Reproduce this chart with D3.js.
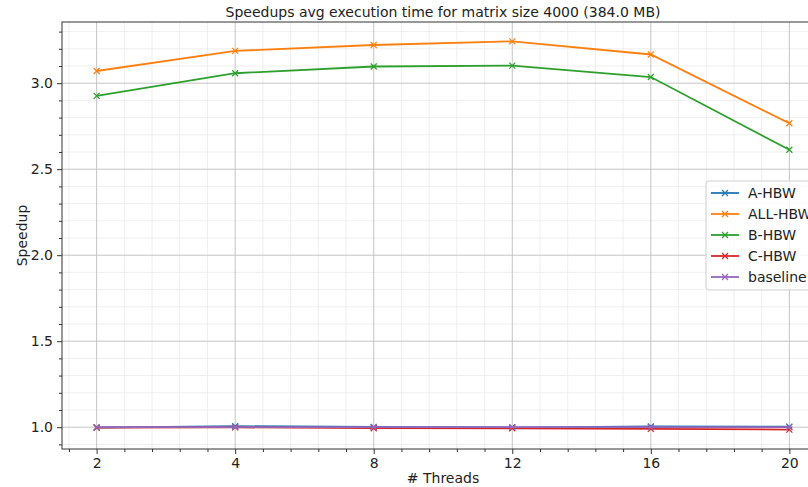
<!DOCTYPE html>
<html><head><meta charset="utf-8">
<script src="https://cdn.jsdelivr.net/npm/d3@7"></script>
<style>body{margin:0;background:#fff}svg{font-family:"DejaVu Sans",sans-serif}</style>
</head><body><svg id="c" width="808" height="487"></svg>
<script>
const threads = [2, 4, 8, 12, 16, 20];
const seriesNames = ["A-HBW", "ALL-HBW", "B-HBW", "C-HBW", "baseline"];
const aHBW = [0.997, 1.006, 1.001, 0.998, 1.004, 1.003];
const allHBW = [3.071, 3.188, 3.222, 3.243, 3.167, 2.767];
const bHBW = [2.926, 3.058, 3.097, 3.102, 3.036, 2.613];
const cHBW = [0.998, 0.999, 0.994, 0.993, 0.990, 0.986];
const baseline = [1.0, 1.0, 1.0, 1.0, 1.0, 1.0];
const yTicks = [1.0, 1.5, 2.0, 2.5, 3.0];
const colors = ["#1f77b4", "#ff7f0e", "#2ca02c", "#d62728", "#9467bd"];
const title = "Speedups avg execution time for matrix size 4000 (384.0 MB)";

const series = [aHBW, allHBW, bHBW, cHBW, baseline].map((v, i) => ({name: seriesNames[i], values: v, color: colors[i]}));

const svg = d3.select("#c");
const L = 62, R = 824, T = 22, B = 449;
const x = d3.scaleLinear().domain([-0.25, 5.25]).range([L, R]);
const allVals = series.flatMap(s => s.values);
const lo = d3.min(allVals), hi = d3.max(allVals), pad = (hi - lo) * 0.05;
const y = d3.scaleLinear().domain([lo - pad, hi + pad]).range([B, T]);

const g = svg.append("g");
const xMinor = d3.range(-0.2, 5.21, 0.2).filter(v => Math.abs(v - Math.round(v)) > 1e-6);
const yMinor = d3.range(0.9, 3.36, 0.1).filter(v => Math.abs(v * 2 - Math.round(v * 2)) > 1e-6);
g.selectAll(".xm").data(xMinor).join("line").attr("x1", d => x(d)).attr("x2", d => x(d)).attr("y1", T).attr("y2", B).attr("stroke", "#ebebeb").attr("stroke-width", 0.8);
g.selectAll(".ym").data(yMinor).join("line").attr("y1", d => y(d)).attr("y2", d => y(d)).attr("x1", L).attr("x2", R).attr("stroke", "#ebebeb").attr("stroke-width", 0.8);
g.selectAll(".xM").data(d3.range(6)).join("line").attr("x1", d => x(d)).attr("x2", d => x(d)).attr("y1", T).attr("y2", B).attr("stroke", "#c4c4c4").attr("stroke-width", 1);
g.selectAll(".yM").data(yTicks).join("line").attr("y1", d => y(d)).attr("y2", d => y(d)).attr("x1", L).attr("x2", R).attr("stroke", "#c4c4c4").attr("stroke-width", 1);

const xAxis = d3.axisBottom(x).tickValues(d3.range(6)).tickFormat(i => threads[i]).tickSize(5).tickPadding(4);
const xAxisMinor = d3.axisBottom(x).tickValues(xMinor).tickFormat("").tickSize(3);
const yAxis = d3.axisLeft(y).tickValues(yTicks).tickFormat(d3.format(".1f")).tickSize(5).tickPadding(4);
const yAxisMinor = d3.axisLeft(y).tickValues(yMinor).tickFormat("").tickSize(3);
[[xAxis, `translate(0,${B})`], [xAxisMinor, `translate(0,${B})`], [yAxis, `translate(${L},0)`], [yAxisMinor, `translate(${L},0)`]].forEach(([ax, tr]) => {
  const a = svg.append("g").attr("transform", tr).call(ax);
  a.select(".domain").remove();
  a.selectAll("line").attr("stroke", "#333");
  a.selectAll("text").attr("font-size", 14).attr("fill", "#222").attr("font-family", "DejaVu Sans");
});
svg.append("rect").attr("x", L).attr("y", T).attr("width", R - L).attr("height", B - T).attr("fill", "none").attr("stroke", "#333").attr("stroke-width", 1);

const line = d3.line().x((d, i) => x(i)).y(d => y(d));
series.forEach(s => {
  svg.append("path").datum(s.values).attr("d", line).attr("fill", "none").attr("stroke", s.color).attr("stroke-width", 1.8);
  s.values.forEach((v, i) => {
    const cx = x(i), cy = y(v), r = 3;
    svg.append("path").attr("d", `M${cx - r},${cy - r}L${cx + r},${cy + r}M${cx - r},${cy + r}L${cx + r},${cy - r}`).attr("stroke", s.color).attr("stroke-width", 1.2);
  });
});

svg.append("text").attr("x", (L + R) / 2).attr("y", 17).attr("text-anchor", "middle").attr("font-size", 14).attr("fill", "#222").text(title);
svg.append("text").attr("x", (L + R) / 2).attr("y", 483).attr("text-anchor", "middle").attr("font-size", 14).attr("fill", "#222").text("# Threads");
svg.append("text").attr("transform", `translate(27,${(T + B) / 2}) rotate(-90)`).attr("text-anchor", "middle").attr("font-size", 14).attr("fill", "#222").text("Speedup");

const lg = svg.append("g").attr("transform", "translate(706,181)");
lg.append("rect").attr("width", 120).attr("height", 109).attr("rx", 3).attr("fill", "#fff").attr("fill-opacity", 0.8).attr("stroke", "#d0d0d0");
series.forEach((s, i) => {
  const yy = 12 + i * 21;
  lg.append("line").attr("x1", 5).attr("x2", 33).attr("y1", yy).attr("y2", yy).attr("stroke", s.color).attr("stroke-width", 1.8);
  lg.append("path").attr("d", `M16,${yy - 3}L22,${yy + 3}M16,${yy + 3}L22,${yy - 3}`).attr("stroke", s.color).attr("stroke-width", 1.2);
  lg.append("text").attr("x", 42).attr("y", yy + 5).attr("font-size", 14).attr("fill", "#222").text(s.name);
});
</script></body></html>
